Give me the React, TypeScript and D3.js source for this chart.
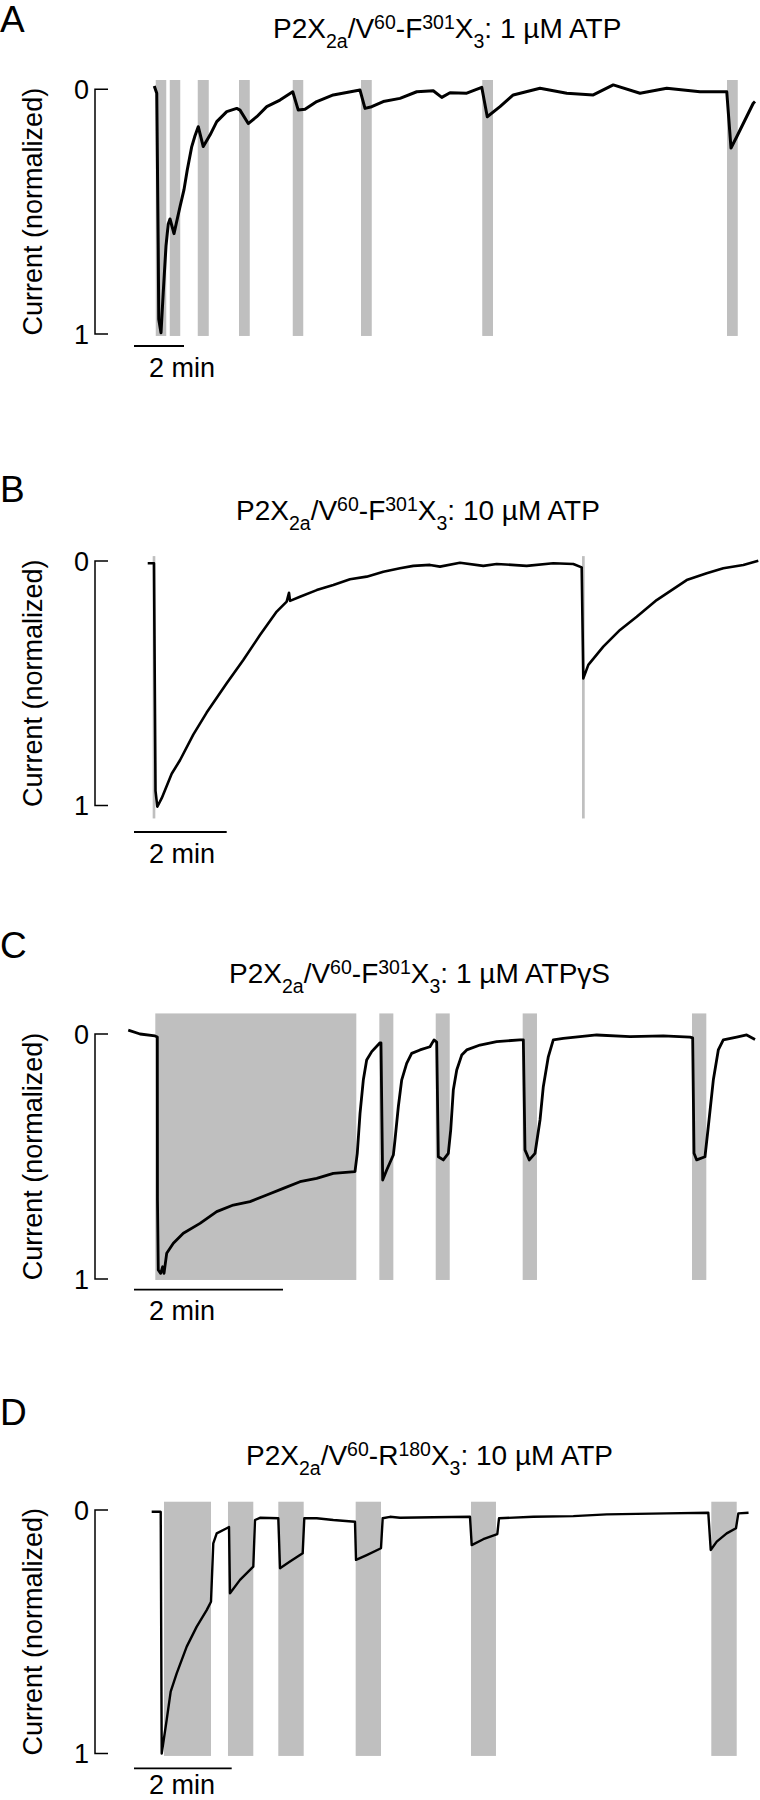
import React from 'react';
import * as d3 from 'd3';

// time in minutes (from scale-bar start), current normalized (0 = baseline, 1 = peak)
const traceA: [number, number][] = [
  [0.81, -0.013], [0.91, 0.016], [0.97, 0.66], [0.99, 0.94], [1.08, 0.995], [1.17, 0.83], [1.28, 0.64],
  [1.37, 0.55], [1.44, 0.53], [1.6, 0.59], [1.84, 0.48], [2.0, 0.41], [2.13, 0.33], [2.31, 0.234],
  [2.44, 0.19], [2.57, 0.153], [2.77, 0.234], [3.04, 0.187], [3.31, 0.132], [3.71, 0.091], [4.11, 0.078],
  [4.24, 0.085], [4.57, 0.14], [4.91, 0.112], [5.31, 0.071], [5.84, 0.044], [6.35, 0.01], [6.57, 0.085],
  [6.84, 0.082], [7.31, 0.05], [7.97, 0.023], [9.04, 0.003], [9.24, 0.078], [9.51, 0.071], [9.97, 0.05],
  [10.64, 0.037], [11.31, 0.01], [11.97, 0.006], [12.31, 0.033], [12.64, 0.014], [13.31, 0.016],
  [13.91, -0.008], [14.13, 0.112], [14.64, 0.071], [15.17, 0.023], [16.24, -0.004], [17.31, 0.016],
  [18.37, 0.023], [19.17, -0.018], [20.24, 0.016], [21.31, -0.004], [22.64, 0.01], [23.71, 0.01],
  [23.88, 0.24], [24.11, 0.194], [24.77, 0.057], [24.84, 0.05],
];
const barsA: [number, number][] = [
  [0.87, 1.29], [1.43, 1.85], [2.55, 2.99], [4.2, 4.63], [6.35, 6.77], [9.08, 9.51], [13.93, 14.36], [23.72, 24.15],
];

const traceB: [number, number][] = [
  [0.296, 0.009], [0.403, 0.009], [0.431, 0.009], [0.464, 0.94], [0.503, 1.005], [0.598, 0.97],
  [0.813, 0.87], [0.992, 0.815], [1.279, 0.71], [1.568, 0.62], [2.0, 0.5], [2.358, 0.405], [2.718, 0.303],
  [3.079, 0.207], [3.294, 0.166], [3.344, 0.13], [3.366, 0.163], [3.581, 0.146], [3.942, 0.119],
  [4.3, 0.098], [4.66, 0.075], [5.02, 0.064], [5.38, 0.044], [5.739, 0.03], [6.026, 0.02], [6.386, 0.016],
  [6.602, 0.023], [7.033, 0.007], [7.536, 0.02], [7.825, 0.012], [8.472, 0.02], [9.046, 0.009],
  [9.478, 0.012], [9.659, 0.026], [9.694, 0.48], [9.802, 0.425], [10.125, 0.35], [10.486, 0.282],
  [10.846, 0.228], [11.277, 0.16], [11.924, 0.078], [12.356, 0.05], [12.714, 0.03], [13.146, 0.016],
  [13.469, -0.001],
];
const barsB: [number, number][] = [[0.403, 0.46], [9.666, 9.724]];

const traceC: [number, number][] = [
  [-0.077, -0.016], [0.081, 0], [0.282, 0.008], [0.313, 0.012], [0.315, 0.678], [0.326, 0.963],
  [0.358, 0.977], [0.385, 0.95], [0.403, 0.977], [0.439, 0.895], [0.528, 0.854], [0.662, 0.813],
  [0.886, 0.773], [1.11, 0.725], [1.333, 0.698], [1.557, 0.684], [1.781, 0.657], [2.004, 0.63],
  [2.228, 0.603], [2.452, 0.589], [2.675, 0.569], [2.966, 0.562], [2.997, 0.487], [3.034, 0.324],
  [3.078, 0.188], [3.123, 0.106], [3.191, 0.072], [3.302, 0.036], [3.315, 0.036], [3.338, 0.596],
  [3.392, 0.555], [3.481, 0.494], [3.503, 0.433], [3.548, 0.297], [3.593, 0.188], [3.66, 0.12],
  [3.727, 0.079], [3.839, 0.065], [3.973, 0.052], [4.027, 0.024], [4.063, 0.033], [4.085, 0.501],
  [4.152, 0.514], [4.219, 0.487], [4.251, 0.392], [4.286, 0.229], [4.332, 0.147], [4.399, 0.086],
  [4.466, 0.065], [4.644, 0.045], [4.868, 0.031], [5.181, 0.024], [5.226, 0.024], [5.248, 0.473],
  [5.306, 0.514], [5.383, 0.487], [5.45, 0.351], [5.494, 0.215], [5.561, 0.093], [5.628, 0.024],
  [5.762, 0.018], [6.211, 0.004], [6.658, 0.011], [7.105, 0.008], [7.463, 0.013], [7.499, 0.016],
  [7.517, 0.487], [7.553, 0.514], [7.664, 0.501], [7.709, 0.378], [7.776, 0.188], [7.843, 0.065],
  [7.91, 0.024], [8.09, 0.013], [8.224, 0.004], [8.336, 0.022],
];
const barsC: [number, number][] = [
  [0.286, 2.984], [3.293, 3.481], [4.05, 4.238], [5.217, 5.409], [7.49, 7.682],
];

const traceD: [number, number][] = [
  [0.362, 0.007], [0.532, 0.007], [0.547, 0.008], [0.567, 1.0], [0.669, 0.862], [0.751, 0.746],
  [0.874, 0.671], [1.079, 0.561], [1.284, 0.479], [1.488, 0.411], [1.576, 0.377], [1.623, 0.137],
  [1.693, 0.096], [1.898, 0.075], [1.945, 0.07], [1.965, 0.342], [2.17, 0.287], [2.375, 0.246],
  [2.442, 0.233], [2.477, 0.041], [2.579, 0.032], [2.954, 0.034], [2.989, 0.239], [3.193, 0.212],
  [3.453, 0.178], [3.486, 0.034], [3.74, 0.034], [4.08, 0.041], [4.524, 0.048], [4.545, 0.205],
  [4.764, 0.185], [5.056, 0.157], [5.091, 0.034], [5.241, 0.028], [5.445, 0.032], [6.127, 0.03],
  [6.878, 0.028], [6.913, 0.144], [7.15, 0.12], [7.437, 0.099], [7.472, 0.034], [8.174, 0.028],
  [8.993, 0.025], [9.677, 0.018], [10.905, 0.014], [11.756, 0.011], [11.806, 0.164], [11.929, 0.13],
  [12.133, 0.096], [12.323, 0.075], [12.371, 0.014], [12.58, 0.011],
];
const barsD: [number, number][] = [
  [0.614, 1.576], [1.924, 2.442], [2.954, 3.474], [4.538, 5.056], [6.899, 7.41], [11.818, 12.338],
];

const panelLetters = ['A', 'B', 'C', 'D'];
const residues = [['F', '301'], ['F', '301'], ['F', '301'], ['R', '180']];
const agonists = ['1 \u00B5M ATP', '10 \u00B5M ATP', '1 \u00B5M ATP\u03B3S', '10 \u00B5M ATP'];
const yTicks = [0, 1];
const scaleBarMin = 2;
const traces = [traceA, traceB, traceC, traceD];
const bars = [barsA, barsB, barsC, barsD];

// layout per panel (pixels)
const layout = [
  { labelY: 32, titleX: 273, titleY: 38, y0: 89.3, y1: 334, ppm: 25, barTop: -0.038, barBot: 1.008, sbY: 346, sbText: 30.5, sw: 3 },
  { labelY: 502, titleX: 236, titleY: 520, y0: 561, y1: 805.5, ppm: 46.35, barTop: -0.02, barBot: 1.053, sbY: 832, sbText: 30.5, sw: 2.6 },
  { labelY: 958, titleX: 229, titleY: 983, y0: 1034, y1: 1279, ppm: 74.5, barTop: -0.084, barBot: 1.004, sbY: 1289.7, sbText: 30.5, sw: 2.8 },
  { labelY: 1425, titleX: 246, titleY: 1465, y0: 1510, y1: 1753.5, ppm: 48.85, barTop: -0.034, barBot: 1.01, sbY: 1768.3, sbText: 25.5, sw: 2.4 },
];

const FONT = '"Liberation Sans", Arial, Helvetica, sans-serif';
const X0 = 134;
const GRAY = '#bfbfbf';

const Title: React.FC<{ i: number; x: number; y: number }> = ({ i, x, y }) => {
  const small = 19.5;
  return (
    <text x={x} y={y} fontSize={28} fontFamily={FONT}>
      P2X
      <tspan fontSize={small} dy={10}>2a</tspan>
      <tspan dy={-10}>/V</tspan>
      <tspan fontSize={small} dy={-9}>60</tspan>
      <tspan dy={9}>-{residues[i][0]}</tspan>
      <tspan fontSize={small} dy={-9}>{residues[i][1]}</tspan>
      <tspan dy={9}>X</tspan>
      <tspan fontSize={small} dy={10}>3</tspan>
      <tspan dy={-10}>: {agonists[i]}</tspan>
    </text>
  );
};

const Panel: React.FC<{ i: number }> = ({ i }) => {
  const L = layout[i];
  const x = d3.scaleLinear().domain([0, (760 - X0) / L.ppm]).range([X0, 760]);
  const y = d3.scaleLinear().domain([0, 1]).range([L.y0, L.y1]);
  const line = d3.line<[number, number]>().x(d => x(d[0])).y(d => y(d[1]));
  const bx = 95;
  return (
    <g>
      <text x={0} y={L.labelY} fontSize={37} fontFamily={FONT}>{panelLetters[i]}</text>
      <Title i={i} x={L.titleX} y={L.titleY} />
      {bars[i].map((b, k) => (
        <rect key={k} x={x(b[0])} width={x(b[1]) - x(b[0])} y={y(L.barTop)} height={y(L.barBot) - y(L.barTop)} fill={GRAY} />
      ))}
      <path d={line(traces[i]) || ''} fill="none" stroke="#000" strokeWidth={L.sw} strokeLinejoin="round" />
      <path d={`M${bx + 13},${y(0)}H${bx}V${y(1)}H${bx + 13}`} fill="none" stroke="#000" strokeWidth={1.5} />
      {yTicks.map(t => (
        <text key={t} x={89} y={y(t) + 9.7} fontSize={27} fontFamily={FONT} textAnchor="end">{t}</text>
      ))}
      <text transform={`translate(42,${(y(0) + y(1)) / 2}) rotate(-90)`} fontSize={27} fontFamily={FONT} textAnchor="middle">
        Current (normalized)
      </text>
      <line x1={x(0)} x2={x(scaleBarMin)} y1={L.sbY} y2={L.sbY} stroke="#000" strokeWidth={1.8} />
      <text x={149} y={L.sbY + L.sbText} fontSize={27} fontFamily={FONT}>{scaleBarMin} min</text>
    </g>
  );
};

export default function App() {
  return (
    <svg width={760} height={1800} style={{ position: 'absolute', left: 0, top: 0, background: '#fff' }}>
      <rect width={760} height={1800} fill="#fff" />
      {layout.map((_, i) => <Panel key={i} i={i} />)}
    </svg>
  );
}
